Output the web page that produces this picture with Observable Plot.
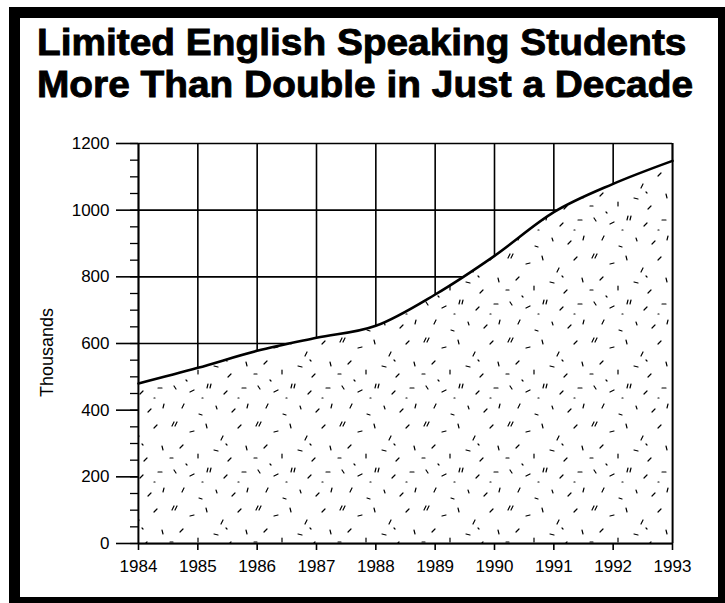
<!DOCTYPE html>
<html>
<head>
<meta charset="utf-8">
<script src="https://cdn.jsdelivr.net/npm/d3@7"></script>
<script src="https://cdn.jsdelivr.net/npm/@observablehq/plot@0.6"></script>
<style>
  html, body { margin: 0; padding: 0; background: #fff; }
  body { width: 725px; height: 603px; position: relative; overflow: hidden; }
  #frame {
    position: absolute; left: 9px; top: 7px; width: 719px; height: 599px;
    box-sizing: border-box; border-style: solid; border-color: #000;
    border-width: 11px 10px 9px 11px; z-index: 2; pointer-events: none;
  }
  #title {
    position: absolute; left: 37px; top: 21px; margin: 0; white-space: nowrap;
    font-family: "Liberation Sans", Arial, Helvetica, sans-serif; font-weight: 700;
    font-size: 37.5px; line-height: 42px; color: #000; transform-origin: 0 0;
    -webkit-text-stroke: 0.9px #000;
  }
  #chart { position: absolute; left: 0; top: 0; }
</style>
</head>
<body>
<div id="frame"></div>
<h1 id="title">Limited English Speaking Students<br>More Than Double in Just a Decade</h1>
<div id="chart"></div>
<script>
// Limited English speaking students, thousands, 1984–1993
const years = [1984, 1985, 1986, 1987, 1988, 1989, 1990, 1991, 1992, 1993];
const students = [480, 527, 578, 617, 653, 747, 863, 994, 1079, 1148];
const yTicks = [0, 200, 400, 600, 800, 1000, 1200];
const yMinorTicks = d3.range(0, 1201, 50);

const data = years.map((year, i) => ({year, value: students[i]}));

// stipple texture for the filled area
const stipple = () => {
  const ns = "http://www.w3.org/2000/svg";
  const defs = document.createElementNS(ns, "defs");
  defs.innerHTML = `
    <pattern id="stipple" width="84" height="84" patternUnits="userSpaceOnUse">
      <rect width="84" height="84" fill="#fff"/>
      <path stroke="#000" stroke-width="1.2" stroke-linecap="round" fill="none" d="
        M4 6l2 -4 M7 6l2 -4
        M22 12l4 -1
        M38 4l1 4
        M55 16l-2 4
        M70 8l3 -3
        M12 28l3 -3
        M30 34l0 4
        M46 30l4 1
        M63 38l-3 3
        M78 26l1 4
        M6 50l2 3
        M22 56l4 -2
        M40 48l-1 4 M43 48l-1 4
        M56 58l3 -3
        M74 52l4 0
        M14 72l2 -4
        M31 78l3 1
        M48 70l1 3
        M64 76l3 -3
        M80 68l-1 4
        M2 38l3 0
        M34 62l1 0
        M58 24l1 1
        M18 44l1 1
        M70 62l1 0
      "/>
    </pattern>`;
  return defs;
};

const axisFont = {fontFamily: "'Liberation Sans', Arial, Helvetica, sans-serif", fontSize: 17};

const chart = Plot.plot({
  width: 725,
  height: 603,
  marginLeft: 138,
  marginRight: 53,
  marginTop: 143,
  marginBottom: 60,
  style: {background: "transparent", color: "#000", fontFamily: axisFont.fontFamily, fontSize: "17px"},
  x: {domain: [1984, 1993]},
  y: {domain: [0, 1200]},
  marks: [
    stipple,
    Plot.gridY(yTicks, {stroke: "#000", strokeOpacity: 1, strokeWidth: 1.6}),
    Plot.gridX(years, {stroke: "#000", strokeOpacity: 1, strokeWidth: 1.6}),
    Plot.areaY(data, {x: "year", y: "value", curve: "monotone-x", fill: "url(#stipple)", fillOpacity: 1}),
    Plot.lineY(data, {x: "year", y: "value", curve: "monotone-x", stroke: "#000", strokeWidth: 2.6}),
    Plot.ruleX([1984, 1993], {stroke: "#000", strokeWidth: 1.8}),
    Plot.ruleY([0], {stroke: "#000", strokeWidth: 1.8}),
    Plot.axisY(yMinorTicks, {tickSize: 8, text: null, label: null, strokeWidth: 1.3}),
    Plot.axisY(yTicks, {
      ...axisFont, tickSize: 22, tickPadding: 7, strokeWidth: 1.6, tickFormat: "d",
      label: "Thousands", labelAnchor: "center", labelArrow: "none", labelOffset: 98
    }),
    Plot.axisX(years, {...axisFont, tickSize: 7, tickPadding: 9, tickFormat: "d", label: null, strokeWidth: 1.6})
  ]
});
document.getElementById("chart").append(chart);

// axis title sits a little below the vertical centre, at a slightly larger size
const yLabel = chart.querySelector('g[aria-label="y-axis label"]');
if (yLabel) {
  yLabel.setAttribute("transform", `${yLabel.getAttribute("transform") || ""} translate(0,9)`);
  yLabel.setAttribute("font-size", 18);
}

// stretch the two-line title across the frame
const title = document.getElementById("title");
const tw = title.getBoundingClientRect().width;
title.style.transform = `scaleX(${656 / tw})`;
</script>
</body>
</html>
